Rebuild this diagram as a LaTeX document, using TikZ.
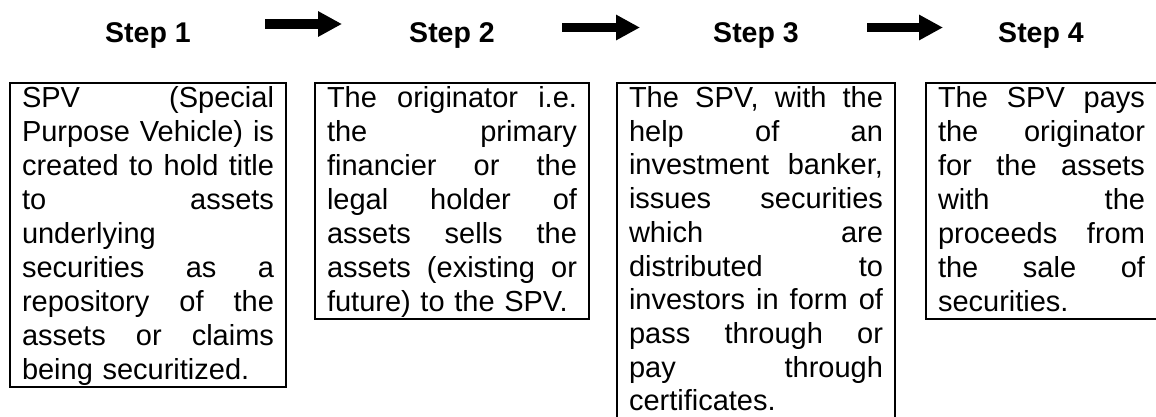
\documentclass[tikz,border=0pt]{standalone}
\usepackage{fontspec}
\setmainfont{Liberation Sans}
\usetikzlibrary{arrows.meta}
\setlength{\parindent}{0pt}
\frenchspacing
% one line of box text: fixed strut so every line sits on the baseline grid
\newcommand{\ls}{\rule[-7pt]{0pt}{32pt}}
% justified line: word spaces stretch to the full column width
\newcommand{\jl}[1]{\hbox to \hsize{\spaceskip=0.278em plus 1fil\relax\ls#1}}
% ragged line at natural spacing
\newcommand{\rl}[1]{\hbox{\ls#1}}
\tikzset{
  stepbox/.style={draw=black, line width=2pt, anchor=north west,
    inner xsep=12pt, inner ysep=0pt, outer sep=0pt, align=left,
    text width=#1, font=\fontsize{29pt}{34pt}\selectfont},
  steplabel/.style={anchor=base, inner sep=0pt,
    font=\bfseries\fontsize{28.5pt}{34pt}\selectfont},
  bigarrow/.style={line width=9.5pt, -{Triangle[length=24pt,width=24pt]}}
}
\begin{document}
\begin{tikzpicture}[x=1pt,y=-1pt]
  \useasboundingbox[fill=white] (0,0) rectangle (1156,416);

  % step headings
  \node[steplabel] (s1) at (148,42.5) {Step 1};
  \node[steplabel] (s2) at (452,42.5) {Step 2};
  \node[steplabel] (s3) at (756,42.5) {Step 3};
  \node[steplabel] (s4) at (1041,42.5) {Step 4};

  % arrows between the headings
  \coordinate (a1s) at (265,24);
  \coordinate (a1e) at (342,24);
  \coordinate (a2s) at (562,27.5);
  \coordinate (a2e) at (640,27.5);
  \coordinate (a3s) at (867,27.5);
  \coordinate (a3e) at (943,27.5);
  \draw[bigarrow] (a1s) -- (a1e);
  \draw[bigarrow] (a2s) -- (a2e);
  \draw[bigarrow] (a3s) -- (a3e);

  % description boxes, one \hbox per printed line
  \node[stepbox=252pt] (b1) at (10,82.5) {%
    \jl{SPV (Special}
    \jl{Purpose Vehicle) is}
    \jl{created to hold title}
    \jl{to assets}
    \rl{underlying}
    \jl{securities as a}
    \jl{repository of the}
    \jl{assets or claims}
    \rl{being securitized.}};

  \node[stepbox=250pt] (b2) at (315,82.5) {%
    \jl{The originator i.e.}
    \jl{the primary}
    \jl{financier or the}
    \jl{legal holder of}
    \jl{assets sells the}
    \jl{assets (existing or}
    \rl{future) to the SPV.}};

  \node[stepbox=254pt, font=\fontsize{29pt}{33.7pt}\selectfont] (b3) at (617,82.5) {%
    \jl{The SPV, with the}
    \jl{help of an}
    \jl{investment banker,}
    \jl{issues securities}
    \jl{which are}
    \jl{distributed to}
    \jl{investors in form of}
    \jl{pass through or}
    \jl{pay through}
    \rl{certificates.}};

  \node[stepbox=207pt] (b4) at (926,82.5) {%
    \jl{The SPV pays}
    \jl{the originator}
    \jl{for the assets}
    \jl{with the}
    \jl{proceeds from}
    \jl{the sale of}
    \rl{securities.}};
\end{tikzpicture}
\end{document}
